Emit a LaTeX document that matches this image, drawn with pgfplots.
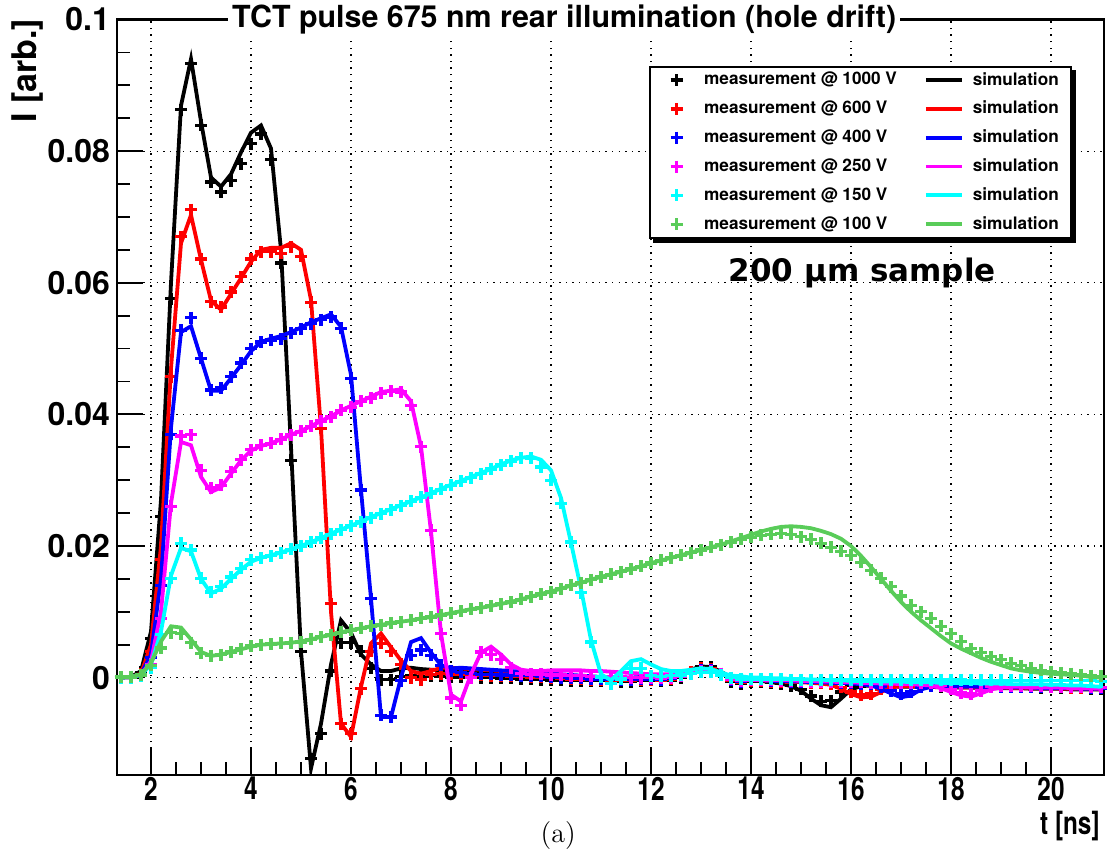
\documentclass[border=0pt]{standalone}
\usepackage{fontspec}
\setmainfont{TeX Gyre Heros}
\newfontfamily\dejavu{DejaVu Sans}
\usepackage{graphicx}
\usepackage{pgfplots}
\usepackage{pgfplotstable}
\pgfplotsset{compat=1.18}

\pgfdeclarelayer{background}
\pgfsetlayers{background,main}

\definecolor{rootgreen}{RGB}{89,204,89}
\definecolor{rootmagenta}{RGB}{255,0,255}
\definecolor{rootcyan}{RGB}{0,255,255}

% current in units of 1e-3 (arb.), time in ns
\pgfplotstableread{
t    m1000 s1000 m600 s600 m400 s400 m250 s250 m150 s150 m100 s100
1.4  0.0   0.0   0.0  0.0  0.0  0.0  0.0  0.0  0.0  0.0  0.1  0.0
1.6  0.0   0.1   0.0  0.1  0.0  0.1  0.0  0.1  0.0  0.1  0.1  0.1
1.8  0.8   1.0   0.5  0.6  0.4  0.5  0.3  0.4  0.3  0.4  0.4  0.5
2.0  6.0   7.0   4.0  5.0  3.0  3.5  2.0  2.5  1.5  2.0  1.9  2.2
2.2  24.5  27.0  18.0 20.0 14.0 15.0 9.0  10.0 6.5  7.0  4.5  5.5
2.4  57.6  60.0  45.7 47.0 37.0 38.0 26.0 26.5 15.1 15.5 6.8  7.8
2.6  86.3  86.9  67.0 66.0 52.8 52.5 36.7 35.8 20.4 19.7 6.7  7.6
2.8  93.3  94.0  71.1 70.3 54.7 53.4 36.9 35.3 19.4 19.2 5.3  5.8
3.0  83.9  84.5  63.6 63.5 48.5 48.5 31.5 30.5 15.1 15.0 3.7  3.9
3.2  75.3  76.0  57.1 57.3 43.7 43.6 28.8 28.2 13.0 12.8 3.3  3.3
3.4  73.8  74.6  56.3 55.9 44.0 43.6 29.2 28.9 13.9 13.5 3.5  3.5
3.6  75.5  76.5  58.6 58.3 45.7 45.5 31.3 31.0 15.3 15.0 3.9  3.9
3.8  78.1  79.8  60.9 60.7 47.8 47.5 33.1 33.0 16.6 16.4 4.4  4.3
4.0  81.1  82.8  63.6 63.2 50.0 49.6 34.6 34.5 17.9 17.6 4.8  4.7
4.2  82.6  83.9  64.7 65.0 51.0 51.0 35.3 35.2 18.2 18.2 5.0  5.0
4.4  78.7  80.4  64.7 65.3 51.3 51.5 35.6 35.6 18.5 18.6 5.1  5.1
4.6  63.0  65.0  64.5 65.3 51.5 51.9 36.2 36.2 19.0 19.0 5.2  5.2
4.8  33.0  35.0  65.5 66.0 52.3 52.5 36.9 36.9 19.5 19.5 5.3  5.3
5.0  4.0   4.0   64.0 65.0 53.0 53.2 37.4 37.5 20.0 20.0 5.4  5.5
5.2  -12.3 -13.8 57.0 57.4 53.8 54.0 38.2 38.2 20.6 20.6 5.8  5.8
5.4  -8.5  -7.0  37.9 37.9 54.4 54.6 39.0 39.0 21.2 21.2 6.2  6.2
5.6  1.0   2.0   11.2 10.0 54.8 55.2 39.6 39.7 21.8 21.9 6.5  6.5
5.8  5.3   8.7   -7.0 -7.0 53.1 53.3 40.6 40.6 22.5 22.5 6.9  6.9
6.0  5.3   6.8   -8.5 -9.0 45.5 46.0 41.1 41.3 23.1 23.1 7.2  7.2
6.2  4.0   3.5   -1.7 -1.4 28.5 28.5 42.0 42.0 23.7 23.7 7.5  7.5
6.4  1.4   2.0   4.0  5.2  12.0 12.0 42.5 42.7 24.3 24.4 7.8  7.8
6.6  -0.3  1.0   5.2  6.7  -5.7 -6.0 43.2 43.4 24.9 25.0 8.0  8.0
6.8  -0.3  1.0   4.0  4.6  -6.0 -6.0 43.5 43.6 25.5 25.6 8.3  8.3
7.0  0.2   1.4   2.0  2.6  -0.5 0.0  43.4 43.8 26.1 26.2 8.5  8.5
7.2  0.3   1.5   0.0  1.0  3.4  5.4  41.4 42.0 26.8 26.8 8.7  8.7
7.4  0.2   1.3   -0.3 0.6  4.2  6.0  35.1 35.1 27.4 27.4 9.0  9.0
7.6  0.3   1.2   0.5  1.0  3.4  3.8  22.4 22.2 28.0 28.0 9.2  9.2
7.8  0.2   1.1   0.6  1.5  1.9  1.9  6.7  6.7  28.6 28.7 9.5  9.5
8.0  0.1   1.0   0.5  1.5  1.0  1.4  -3.1 -2.6 29.2 29.3 9.8  9.8
8.2  0.1   0.9   0.5  1.4  0.8  1.5  -4.2 -3.6 29.8 29.9 10.1 10.1
8.4  0.0   0.9   0.4  1.3  0.6  1.4  0.0  0.5  30.4 30.5 10.4 10.4
8.6  0.0   0.8   0.4  1.2  0.5  1.3  3.9  3.8  31.0 31.1 10.6 10.6
8.8  0.0   0.7   0.3  1.1  0.5  1.2  3.5  4.7  31.7 31.7 10.9 10.9
9.0  -0.1  0.7   0.3  1.0  0.4  1.1  2.8  3.5  32.3 32.4 11.2 11.2
9.2  -0.1  0.6   0.2  0.9  0.4  1.0  1.5  2.0  32.9 33.0 11.5 11.5
9.4  -0.2  0.5   0.2  0.8  0.3  0.9  0.6  1.2  33.4 33.4 11.9 11.9
9.6  -0.2  0.4   0.1  0.7  0.3  0.8  0.5  1.0  33.3 33.6 12.3 12.3
9.8  -0.3  0.3   0.1  0.6  0.2  0.7  0.5  1.0  32.0 33.1 12.7 12.7
10.0 -0.4  0.2   0.0  0.5  0.1  0.6  0.4  1.1  30.0 31.5 13.0 13.1
10.2 -0.4  0.1   -0.1 0.4  0.0  0.5  0.4  1.1  26.5 27.3 13.5 13.5
10.4 -0.5  0.0   -0.2 0.3  -0.1 0.4  0.3  1.1  20.6 20.5 14.0 14.0
10.6 -0.5  0.0   -0.2 0.2  -0.1 0.3  0.3  1.1  12.9 13.5 14.4 14.4
10.8 -0.5  -0.1  -0.3 0.1  -0.2 0.2  0.2  1.0  5.4  5.7  14.9 14.9
11.0 -0.5  -0.2  -0.3 0.0  -0.2 0.1  0.2  1.0  0.1  0.5  15.3 15.3
11.2 -0.6  -0.2  -0.4 0.0  -0.3 0.1  0.1  0.9  -0.9 -0.4 15.7 15.7
11.4 -0.6  -0.2  -0.4 -0.1 -0.3 0.0  0.1  0.8  -0.2 1.0  16.1 16.1
11.6 -0.6  -0.2  -0.4 -0.1 -0.3 0.0  0.0  0.7  1.4  2.5  16.5 16.5
11.8 -0.5  -0.1  -0.3 0.0  -0.2 0.1  0.0  0.6  1.4  2.8  16.9 16.9
12.0 -0.4  -0.1  -0.3 0.0  -0.2 0.1  0.0  0.5  0.3  2.0  17.4 17.4
12.2 -0.5  -0.1  -0.4 0.0  -0.3 0.1  -0.1 0.5  0.2  1.3  17.8 17.8
12.4 -0.4  0.1   -0.2 0.2  -0.1 0.3  0.0  0.5  0.3  1.0  18.2 18.2
12.6 0.0   0.5   0.2  0.5  0.2  0.5  0.2  0.7  0.4  1.0  18.6 18.6
12.8 0.8   1.2   0.8  1.0  0.6  0.9  0.6  1.0  0.6  1.2  19.0 19.0
13.0 1.6   1.7   1.4  1.4  1.1  1.2  1.0  1.2  0.8  1.4  19.4 19.4
13.2 1.6   1.6   1.3  1.3  1.1  1.1  1.0  1.1  0.8  1.3  19.8 19.8
13.4 0.6   0.9   0.5  0.7  0.5  0.6  0.5  0.7  0.4  0.8  20.2 20.2
13.6 -0.6  0.0   -0.4 0.0  -0.3 0.0  -0.2 0.2  0.0  0.3  20.6 20.7
13.8 -0.9  -0.4  -0.7 -0.3 -0.6 -0.3 -0.5 -0.1 -0.2 0.2  21.0 21.2
14.0 -0.6  -0.4  -0.5 -0.4 -0.4 -0.4 -0.4 -0.2 -0.2 0.0  21.3 21.7
14.2 -0.6  -0.5  -0.5 -0.4 -0.4 -0.4 -0.4 -0.3 -0.2 0.0  21.6 22.2
14.4 -0.8  -0.7  -0.6 -0.5 -0.5 -0.5 -0.4 -0.3 -0.2 -0.1 21.8 22.6
14.6 -0.9  -0.9  -0.6 -0.6 -0.5 -0.5 -0.5 -0.4 -0.2 -0.1 21.9 22.9
14.8 -1.2  -1.3  -0.7 -0.6 -0.6 -0.6 -0.5 -0.4 -0.3 -0.2 21.8 23.0
15.0 -1.8  -2.0  -0.7 -0.7 -0.6 -0.6 -0.5 -0.5 -0.3 -0.2 21.4 22.9
15.2 -2.8  -3.2  -0.8 -0.8 -0.6 -0.7 -0.6 -0.5 -0.3 -0.3 21.0 22.7
15.4 -3.6  -4.2  -0.8 -0.9 -0.7 -0.7 -0.6 -0.6 -0.3 -0.3 20.4 22.3
15.6 -3.5  -4.5  -1.0 -1.1 -0.7 -0.8 -0.6 -0.6 -0.3 -0.4 19.8 21.8
15.8 -2.2  -3.2  -1.5 -1.7 -0.8 -0.8 -0.7 -0.7 -0.3 -0.4 19.2 21.1
16.0 -1.2  -1.8  -2.2 -2.5 -0.8 -0.9 -0.7 -0.7 -0.3 -0.5 18.6 20.0
16.2 -1.0  -1.3  -2.6 -3.0 -0.9 -1.0 -0.7 -0.8 -0.3 -0.5 17.5 18.5
16.4 -1.1  -1.2  -2.5 -2.9 -1.0 -1.2 -0.8 -0.8 -0.3 -0.5 16.3 16.8
16.6 -1.2  -1.3  -1.8 -2.2 -1.4 -1.7 -0.8 -0.9 -0.3 -0.6 15.1 15.0
16.8 -1.2  -1.3  -1.2 -1.5 -2.0 -2.4 -0.8 -0.9 -0.3 -0.6 13.8 13.2
17.0 -1.3  -1.4  -1.1 -1.3 -2.5 -3.0 -0.8 -1.0 -0.3 -0.6 12.4 11.5
17.2 -1.2  -1.4  -1.2 -1.3 -2.2 -2.7 -0.8 -1.0 -0.3 -0.7 11.0 10.0
17.4 -1.3  -1.4  -1.2 -1.3 -1.5 -1.8 -0.8 -1.1 -0.3 -0.7 10.0 8.7
17.6 -1.3  -1.4  -1.3 -1.4 -1.2 -1.4 -0.8 -1.2 -0.3 -0.7 9.0  7.5
17.8 -1.4  -1.5  -1.3 -1.4 -1.2 -1.3 -1.2 -1.6 -0.3 -0.8 7.8  6.3
18.0 -1.3  -1.5  -1.3 -1.4 -1.2 -1.3 -1.8 -2.2 -0.3 -0.8 6.7  5.2
18.2 -1.4  -1.5  -1.3 -1.5 -1.2 -1.4 -2.3 -2.7 -0.3 -0.8 5.5  4.4
18.4 -1.4  -1.5  -1.4 -1.5 -1.3 -1.4 -2.5 -2.9 -0.4 -0.8 4.4  3.7
18.6 -1.4  -1.6  -1.4 -1.5 -1.3 -1.4 -2.0 -2.4 -0.4 -0.9 3.8  3.0
18.8 -1.5  -1.6  -1.4 -1.5 -1.3 -1.5 -1.4 -1.8 -0.4 -0.9 3.2  2.4
19.0 -1.4  -1.6  -1.4 -1.5 -1.4 -1.5 -1.2 -1.5 -0.4 -0.9 2.7  1.9
19.2 -1.5  -1.6  -1.4 -1.6 -1.4 -1.5 -1.2 -1.4 -0.4 -1.0 2.2  1.4
19.4 -1.5  -1.6  -1.5 -1.6 -1.4 -1.5 -1.3 -1.4 -0.4 -1.0 1.8  1.1
19.6 -1.5  -1.7  -1.5 -1.6 -1.4 -1.5 -1.3 -1.5 -0.4 -1.0 1.4  0.9
19.8 -1.6  -1.7  -1.5 -1.6 -1.4 -1.6 -1.3 -1.5 -0.5 -1.0 1.1  0.7
20.0 -1.5  -1.7  -1.5 -1.6 -1.5 -1.6 -1.4 -1.5 -0.5 -1.1 0.9  0.6
20.2 -1.6  -1.7  -1.5 -1.7 -1.5 -1.6 -1.4 -1.5 -0.5 -1.1 0.7  0.5
20.4 -1.6  -1.8  -1.6 -1.7 -1.5 -1.6 -1.4 -1.6 -0.5 -1.2 0.6  0.4
20.6 -1.6  -1.8  -1.6 -1.7 -1.5 -1.7 -1.5 -1.6 -0.5 -1.2 0.4  0.3
20.8 -1.7  -1.8  -1.6 -1.7 -1.6 -1.7 -1.5 -1.6 -0.5 -1.3 0.3  0.1
21.0 -1.7  -1.8  -1.6 -1.8 -1.6 -1.7 -1.5 -1.7 -0.6 -1.4 0.2  0.0
}\pulses

% condensed lettering along the time axis
\newcommand\xl[1]{\scalebox{0.76}[1]{#1}}

\pgfplotsset{
  meas/.style={only marks, mark=+, mark size=3pt, line width=1.6pt,
    mark options={line width=1.6pt, solid},
    legend image code/.code={\path (-8.5pt,0pt) (11pt,0pt); \draw[##1] plot coordinates {(0pt,0pt)};}},
  sim/.style={no marks, line width=1.9pt,
    legend image code/.code={\draw[##1] (0pt,0pt) -- (18pt,0pt); \path (20.5pt,0pt);}},
}

\begin{document}
\begin{tikzpicture}
\begin{axis}[
  scale only axis, width=493.5pt, height=377.75pt,
  xmin=1.32, xmax=21.06, ymin=-14.8, ymax=100,
  xtick={2,4,...,20},
  xticklabels={\xl{2},\xl{4},\xl{6},\xl{8},\xl{10},\xl{12},\xl{14},\xl{16},\xl{18},\xl{20}},
  ytick={0,20,...,100},
  yticklabels={0,0.02,0.04,0.06,0.08,0.1},
  minor x tick num=3, minor y tick num=3,
  tick pos=left, tick align=inside,
  major tick length=13pt, minor tick length=6.5pt,
  tick style={black, line width=0.9pt},
  grid=major,
  major grid style={black, line width=0.6pt, dash pattern=on 0.7pt off 2.6pt},
  axis line style={line width=1.1pt},
  tick label style={font=\fontsize{16}{18}\selectfont\bfseries},
  xticklabel style={yshift=2.5pt},
  /pgf/number format/assume math mode=true,
  clip mode=individual,
  legend columns=2,
  legend cell align=left,
  legend style={
    name=leg,
    at={(axis description cs:0.539,0.939)}, anchor=north west,
    draw=black, line width=1pt, fill=white,
    font=\fontsize{8.6}{10}\selectfont\bfseries,
    inner xsep=4pt, inner ysep=0.8pt, row sep=2.5pt,
    /tikz/every even column/.append style={column sep=11.5pt},
  },
]
\addplot[meas, black] table[x=t, y=m1000] {\pulses};
\addlegendentry{measurement @ 1000 V}
\addplot[sim, black] table[x=t, y=s1000] {\pulses};
\addlegendentry{simulation}
\addplot[meas, red] table[x=t, y=m600] {\pulses};
\addlegendentry{measurement @ 600 V}
\addplot[sim, red] table[x=t, y=s600] {\pulses};
\addlegendentry{simulation}
\addplot[meas, blue] table[x=t, y=m400] {\pulses};
\addlegendentry{measurement @ 400 V}
\addplot[sim, blue] table[x=t, y=s400] {\pulses};
\addlegendentry{simulation}
\addplot[meas, rootmagenta] table[x=t, y=m250] {\pulses};
\addlegendentry{measurement @ 250 V}
\addplot[sim, rootmagenta] table[x=t, y=s250] {\pulses};
\addlegendentry{simulation}
\addplot[meas, rootcyan] table[x=t, y=m150] {\pulses};
\addlegendentry{measurement @ 150 V}
\addplot[sim, rootcyan] table[x=t, y=s150] {\pulses};
\addlegendentry{simulation}
\addplot[meas, rootgreen] table[x=t, y=m100] {\pulses};
\addlegendentry{measurement @ 100 V}
\addplot[sim, rootgreen] table[x=t, y=s100] {\pulses};
\addlegendentry{simulation}

\node[fill=white, inner xsep=2pt, inner ysep=1pt, font=\fontsize{15.2}{17}\selectfont\bfseries]
  at (rel axis cs:0.453,1) {TCT pulse 675 nm rear illumination (hole drift)};
\node[font=\dejavu\fontsize{15.5}{18}\selectfont\bfseries]
  at (rel axis cs:0.755,0.665) {200 µm sample};
\node[rotate=90, anchor=east, inner sep=0pt, font=\fontsize{17}{19}\selectfont\bfseries]
  at ([xshift=-44.5pt, yshift=0.5pt]rel axis cs:0,1) {I [arb.]};
\node[anchor=east, inner sep=0pt, font=\fontsize{16}{18}\selectfont\bfseries]
  at ([xshift=-2pt, yshift=-25.5pt]rel axis cs:1,0) {\xl{t [ns]}};
\node[inner sep=0pt, font=\fontfamily{lmr}\fontsize{14}{16}\selectfont]
  at ([yshift=-30.5pt]rel axis cs:0.447,0) {(a)};
\end{axis}
% solid shadow behind the legend box
\begin{pgfonlayer}{background}
  \fill[black] ([shift={(2pt,-2pt)}]leg.south west) rectangle ([shift={(2pt,-2pt)}]leg.north east);
\end{pgfonlayer}
\pgfresetboundingbox
\path[use as bounding box] (-58.5pt,-38.5pt) rectangle (495pt,387.5pt);
\end{tikzpicture}
\end{document}
